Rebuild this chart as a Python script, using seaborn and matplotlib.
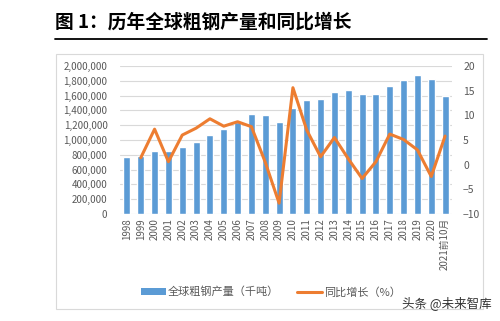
import matplotlib
matplotlib.use("Agg")
import matplotlib.pyplot as plt
import seaborn as sns
import numpy as np
from matplotlib.patches import Rectangle, Patch
from matplotlib.lines import Line2D

years = ["1998", "1999", "2000", "2001", "2002", "2003", "2004", "2005", "2006", "2007",
         "2008", "2009", "2010", "2011", "2012", "2013", "2014", "2015", "2016", "2017",
         "2018", "2019", "2020", "2021前10月"]
production = [777000, 789000, 850000, 851000, 905000, 971000, 1063000, 1148000, 1250000, 1348000,
              1343000, 1239000, 1433000, 1538000, 1560000, 1650000, 1670000, 1620000, 1628000, 1730000,
              1817000, 1875000, 1830000, 1600000]
growth_years = ["1999", "2000", "2001", "2002", "2003", "2004", "2005", "2006", "2007",
                "2008", "2009", "2010", "2011", "2012", "2013", "2014", "2015", "2016", "2017",
                "2018", "2019", "2020", "2021前10月"]
growth = [1.4, 7.2, 0.6, 6.0, 7.4, 9.3, 7.8, 8.7, 7.7,
          0.5, -7.8, 15.6, 7.0, 1.6, 5.5, 1.2, -2.8, 0.6, 6.2,
          5.1, 3.0, -2.4, 5.8]
left_ticks = list(range(0, 2000001, 200000))
right_ticks = [-10, -5, 0, 5, 10, 15, 20]
bar_label = "全球粗钢产量（千吨）"
line_label = "同比增长（%）"
title = "图 1：历年全球粗钢产量和同比增长"

sns.set_theme(style="white")
plt.rcParams['font.family'] = ['Noto Sans CJK SC', 'DejaVu Sans']

BLUE = "#5B9BD5"
ORANGE = "#ED7D31"
GRAY = "#595959"

fig = plt.figure(figsize=(5, 3.21), dpi=100)
W, H = 500, 321

def fx(x):
    return x / W

def fy(y):
    return 1 - y / H

ax = fig.add_axes([fx(120), fy(214), fx(452) - fx(120), fy(66) - fy(214)])

sns.barplot(x=years, y=production, ax=ax, color=BLUE, width=0.5, saturation=1)
ax.set_ylim(0, 2000000)
ax.set_xlim(-0.5, len(years) - 0.5)
ax.set_yticks(left_ticks)
ax.set_yticklabels([f"{v:,}" for v in left_ticks])
ax.yaxis.grid(True, color="#d9d9d9", linewidth=0.8)
ax.set_axisbelow(True)
ax.tick_params(axis="y", length=0, labelsize=7, labelcolor=GRAY, pad=9)
ax.set_xticks(range(len(years)))
ax.set_xticklabels(years, rotation=90, fontsize=7, color=GRAY)
ax.tick_params(axis="x", length=0, pad=3)
for s in ax.spines.values():
    s.set_visible(False)
ax.set_xlabel("")
ax.set_ylabel("")

ax2 = ax.twinx()
pos = [years.index(y) for y in growth_years]
sns.lineplot(x=pos, y=growth, ax=ax2, color=ORANGE, linewidth=2.2)
ax2.set_ylim(-10, 20)
ax2.set_yticks(right_ticks)
ax2.tick_params(axis="y", length=0, labelsize=7.5, labelcolor=GRAY, pad=8)
ax2.grid(False)
for s in ax2.spines.values():
    s.set_visible(False)
ax2.set_ylabel("")

handles = [Patch(facecolor=BLUE, edgecolor="none"),
           Line2D([0], [0], color=ORANGE, linewidth=2.2)]
fig.legend(handles, [bar_label, line_label], loc="center", bbox_to_anchor=(fx(271), fy(292)),
           ncol=2, frameon=False, fontsize=8, labelcolor=GRAY, handlelength=2.2,
           handletextpad=0.2, columnspacing=1.6, handleheight=0.6)

# frame
fig.patches.append(Rectangle((fx(56), fy(309)), fx(483) - fx(56), fy(54) - fy(309),
                             transform=fig.transFigure, fill=False, edgecolor="#d9d9d9", linewidth=0.8))

# title
fig.text(fx(55), fy(22), title, fontsize=13.5, fontweight="bold", va="center", ha="left", color="black")
fig.add_artist(Line2D([fx(55), fx(487)], [fy(39), fy(39)], transform=fig.transFigure,
                      color="black", linewidth=1.3))

# watermark
fig.text(fx(447), fy(303), "头条 @未来智库", fontsize=9, color="#333333", ha="center", va="center")

fig.savefig("out.png", dpi=100)
